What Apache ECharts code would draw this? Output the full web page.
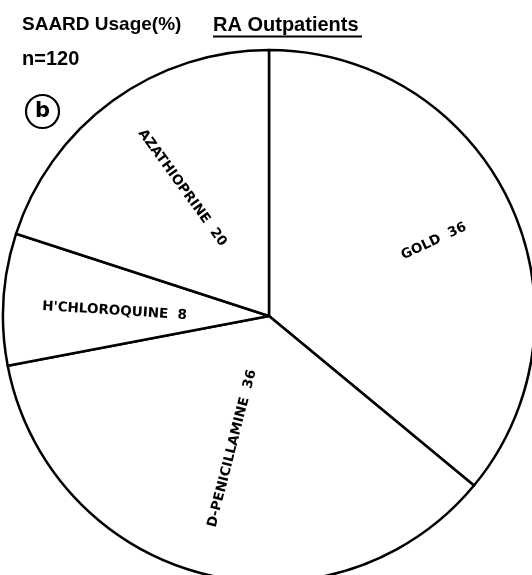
<!DOCTYPE html>
<html>
<head>
<meta charset="utf-8">
<script src="https://cdn.jsdelivr.net/npm/echarts@6/dist/echarts.min.js"></script>
<style>
  html, body { margin: 0; padding: 0; background: #fff; }
  #chart { width: 532px; height: 575px; }
</style>
</head>
<body>
<div id="chart"></div>
<script>
// SAARD usage (%) among RA outpatients, n = 120
var drugs = ['GOLD', 'D-PENICILLAMINE', "H'CHLOROQUINE", 'AZATHIOPRINE'];
var usage = [36, 36, 8, 20];

var cx = 269, cy = 316, R = 266;
// label placement tweaks: push out from centre, then nudge in px
var labelPush = [1.34, 1.03, 1.16, 1.11];
var labelNudge = [[0, 3], [-2, -3], [3, 5], [2, -6]];

var chart = echarts.init(document.getElementById('chart'));

var titleFont = 'bold 20px "Liberation Sans", Arial, sans-serif';

var option = {
    backgroundColor: '#fff',
    animation: false,
    graphic: [
        { type: 'text', left: 22, top: 15, style: { text: 'SAARD Usage(%)', font: 'bold 19px "Liberation Sans", Arial, sans-serif', fill: '#000' } },
        { type: 'text', left: 213, top: 15, style: { text: 'RA Outpatients', font: titleFont, fill: '#000' } },
        { type: 'line', shape: { x1: 213, y1: 36.5, x2: 362, y2: 36.5 }, style: { stroke: '#000', lineWidth: 2 } },
        { type: 'text', left: 22, top: 49, style: { text: 'n=120', font: titleFont, fill: '#000' } },
        { type: 'circle', shape: { cx: 42.5, cy: 111.5, r: 16.5 }, style: { fill: 'none', stroke: '#000', lineWidth: 2.2 } },
        { type: 'text', x: 42.5, y: 111.5, style: { text: 'b', font: 'bold 21px "DejaVu Sans", sans-serif', fill: '#000', align: 'center', verticalAlign: 'middle' } }
    ],
    series: [{
        type: 'pie',
        center: [cx, cy],
        radius: [0, R],
        startAngle: 90,
        clockwise: true,
        silent: true,
        itemStyle: { color: '#fff', borderColor: '#000', borderWidth: 2.5 },
        label: {
            show: true,
            position: 'inside',
            rotate: 'radial',
            color: '#000',
            fontFamily: '"DejaVu Sans", sans-serif',
            fontWeight: 'bold',
            fontSize: 13.5,
            overflow: 'none',
            formatter: function (p) { return p.name + '  ' + p.value; }
        },
        labelLine: { show: false },
        labelLayout: function (p) {
            var r = p.labelRect;
            var lx = r.x + r.width / 2, ly = r.y + r.height / 2;
            var k = labelPush[p.dataIndex], n = labelNudge[p.dataIndex];
            return { x: cx + (lx - cx) * k + n[0], y: cy + (ly - cy) * k + n[1] };
        },
        data: drugs.map(function (d, i) {
            return { name: d, value: usage[i] };
        })
    }]
};

chart.setOption(option);
</script>
</body>
</html>
